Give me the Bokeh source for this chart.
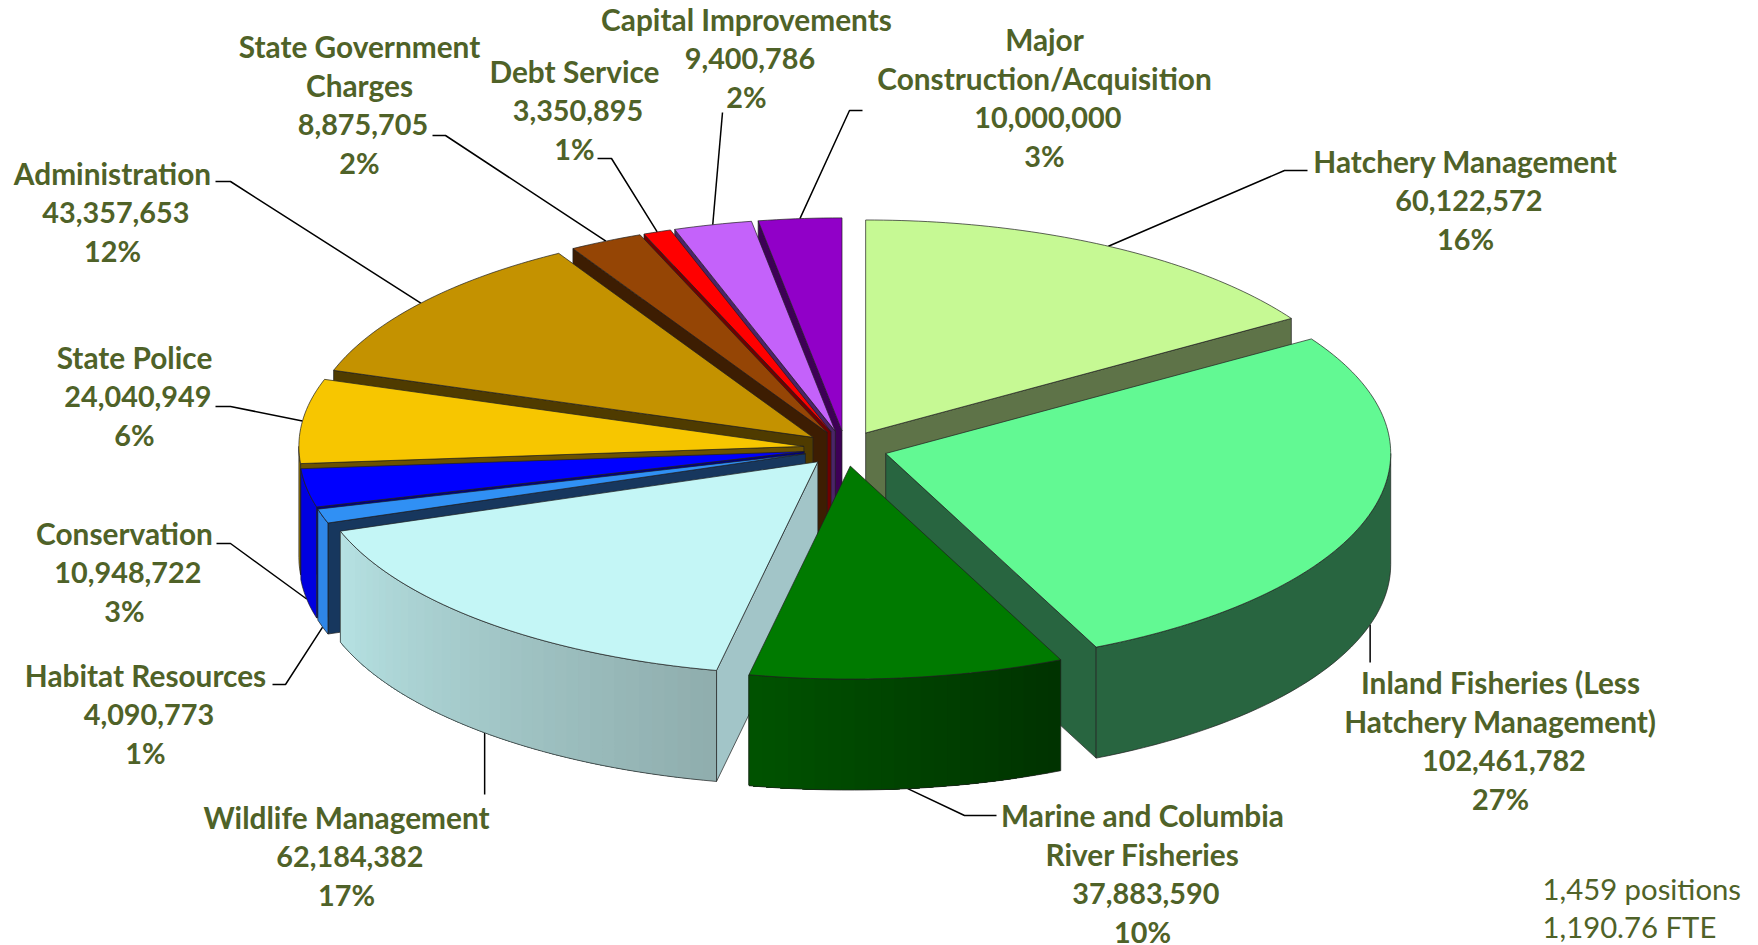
from bokeh.plotting import figure
from bokeh.models import ColumnDataSource, Range1d
from bokeh.core.properties import value
from bokeh.embed import file_html
from bokeh.resources import INLINE
import math

# ---------- data ----------
names = ["Hatchery Management", "Inland Fisheries (Less\nHatchery Management)",
         "Marine and Columbia\nRiver Fisheries", "Wildlife Management", "Habitat Resources",
         "Conservation", "State Police", "Administration", "State Government\nCharges",
         "Debt Service", "Capital Improvements", "Major\nConstruction/Acquisition"]
amounts = [60122572, 102461782, 37883590, 62184382, 4090773, 10948722,
           24040949, 43357653, 8875705, 3350895, 9400786, 10000000]
notes = ["1,459 positions", "1,190.76 FTE"]

# ---------- styles: top, cut wall, outer wall left colour, outer wall right colour ----------
top_col = ["#C6F994", "#62F993", "#007A00", "#C4F6F6", "#3090F4", "#0000FF",
           "#F7C600", "#C49200", "#954505", "#FF0000", "#C462FA", "#9100C8"]
cut_col = ["#5E7348", "#286540", "#004000", "#A2C5C8", "#17375E", "#000080",
           "#6B5200", "#4F3B00", "#3D1D02", "#700000", "#4A2468", "#3D0055"]
wall_l = ["#5E7348", "#286540", "#005300", "#B6E2E3", "#2E86E8", "#0000E0",
          "#9A7A00", "#7F6000", "#5E2C03", "#A00000", "#7A3D9E", "#5C0080"]
wall_r = ["#5E7348", "#286540", "#003200", "#8FADAD", "#2E86E8", "#0000E0",
          "#9A7A00", "#7F6000", "#5E2C03", "#A00000", "#7A3D9E", "#5C0080"]
draw_order = [11, 10, 9, 8, 7, 6, 5, 4, 3, 0, 1, 2]

CX, CY, RX, RY, DEPTH, EXPLODE = 845.0, 448.0, 505.0, 213.0, 111.0, 0.083
TEXT = "#4F6228"
FONT = "Lato"
FS = "29.8px"
FS_NUM = "28.8px"
LINE_H = 38.9
AMOUNT_DX = 3.4

# label anchor: centre x, first line centre y, leader elbow points from the label
# (an elbow x of None means straight above or below the rim point)
layout = [
    (1465, 161, [(1307, 170), (1284, 170)]),
    (1500, 682, [(None, 662)]),
    (1142, 815, [(996, 815), (964, 815)]),
    (346, 817, [(None, 794)]),
    (145, 675, [(272, 684), (285, 684)]),
    (124, 533, [(216, 543), (230, 543)]),
    (134, 357, [(215, 406), (230, 406)]),
    (112, 173, [(215, 181), (230, 181)]),
    (359, 46, [(432, 135), (445, 135)]),
    (574, 71, [(597, 158), (611, 158)]),
    (746, 19, [(722, 112)]),
    (1044, 39, [(862, 110), (849, 110)]),
]

total = sum(amounts)
fills, lines, widths, falpha, lalpha, xs, ys = [], [], [], [], [], [], []


def add(px, py, fill, line=None, width=0.9, alpha=1.0, la=1.0):
    xs.append(px); ys.append(py); fills.append(fill)
    lines.append(line if line else fill); widths.append(width); falpha.append(alpha); lalpha.append(la)


def mix(a, b, t):
    ca = [int(a[i:i + 2], 16) for i in (1, 3, 5)]
    cb = [int(b[i:i + 2], 16) for i in (1, 3, 5)]
    return "#%02x%02x%02x" % tuple(round(u + (v - u) * t) for u, v in zip(ca, cb))


# cumulative angles, clockwise from the back of the pie
a0, bounds = 0.0, []
for v in amounts:
    a1 = a0 + v / total * 360.0
    bounds.append((a0, a1))
    a0 = a1


def rim(ax, ay, deg):
    r = math.radians(deg)
    return ax + RX * math.sin(r), ay - RY * math.cos(r)


apices = []
for s, e in bounds:
    ax, ay = rim(CX, CY, (s + e) / 2)
    apices.append((CX + (ax - CX) * EXPLODE, CY + (ay - CY) * EXPLODE))

for i in draw_order:
    s, e = bounds[i]
    ax, ay = apices[i]
    edge = "#202020"
    # only the cut walls that face the viewer
    if math.sin(math.radians(s)) < 0:
        px, py = rim(ax, ay, s)
        add([ax, px, px, ax], [ay, py, py + DEPTH, ay + DEPTH], cut_col[i], edge, 0.7)
    if math.sin(math.radians(e)) > 0:
        px, py = rim(ax, ay, e)
        add([ax, px, px, ax], [ay, py, py + DEPTH, ay + DEPTH], cut_col[i], edge, 0.7)
    ws, we = max(s, 90.0), min(e, 270.0)
    if we > ws:
        n = max(2, int((we - ws) / 1.5))
        angs = [ws + (we - ws) * k / n for k in range(n + 1)]
        pts = [rim(ax, ay, d) for d in angs]
        ox = [q[0] for q in pts] + [q[0] for q in reversed(pts)]
        oy = [q[1] for q in pts] + [q[1] + DEPTH for q in reversed(pts)]
        if wall_l[i] == wall_r[i]:
            add(ox, oy, wall_l[i], edge, 0.7)
        else:
            # overlapped strips running from the right end towards the left end
            for k in range(n):
                col = mix(wall_l[i], wall_r[i], 1 - (k + 0.5) / n)
                sub = pts[k:]
                add([q[0] for q in sub] + [q[0] for q in reversed(sub)],
                    [q[1] for q in sub] + [q[1] + DEPTH for q in reversed(sub)], col, col, 0.5, 1.0, 0.0)
            add(ox, oy, wall_l[i], edge, 0.7, 0.0)
    n = max(2, int((e - s) / 1.0))
    tp = [rim(ax, ay, s + (e - s) * k / n) for k in range(n + 1)]
    add([ax] + [q[0] for q in tp], [ay] + [q[1] for q in tp], top_col[i], edge, 0.7)

p = figure(width=1758, height=945, output_backend="svg", toolbar_location=None,
           x_range=Range1d(0, 1758), y_range=Range1d(945, 0),
           min_border=0, outline_line_color=None, margin=(0, 0, 0, 0))
p.axis.visible = False
p.grid.visible = False

# leader lines behind the pie
for i, (lx, ly, elbow) in enumerate(layout):
    s, e = bounds[i]
    m = (s + e) / 2
    ex, ey = rim(*apices[i], m)
    if 90 < m < 270:
        ey += DEPTH
    p.line([ex if q[0] is None else q[0] for q in elbow] + [ex], [q[1] for q in elbow] + [ey],
           line_color="#000000", line_width=1.5)

p.patches("xs", "ys", source=ColumnDataSource(dict(xs=xs, ys=ys, f=fills, l=lines, w=widths, a=falpha, la=lalpha)),
          fill_color="f", line_color="l", line_width="w", fill_alpha="a", line_alpha="la")

tx, ty, tt, nx, ny, nt = [], [], [], [], [], []
for i, (lx, ly, _) in enumerate(layout):
    rows = names[i].split("\n")
    for k, row in enumerate(rows):
        tx.append(lx); ty.append(ly + k * LINE_H); tt.append(row)
    base = ly + len(rows) * LINE_H
    nx.append(lx + AMOUNT_DX); ny.append(base); nt.append(f"{amounts[i]:,}")
    nx.append(lx); ny.append(base + LINE_H); nt.append(f"{round(amounts[i] / total * 100)}%")
p.text(tx, ty, text=tt, text_font=value(FONT), text_font_style="bold", text_font_size=FS,
       text_color=TEXT, text_align="center", text_baseline="middle")
p.text(nx, ny, text=nt, text_font=value(FONT), text_font_style="bold", text_font_size=FS_NUM,
       text_color=TEXT, text_align="center", text_baseline="middle")
p.text([1542, 1542], [888, 926], text=notes, text_font=value(FONT), text_font_size="29.3px",
       text_color=TEXT, text_align="left", text_baseline="middle")

open("out.html", "w").write(file_html(p, INLINE))
